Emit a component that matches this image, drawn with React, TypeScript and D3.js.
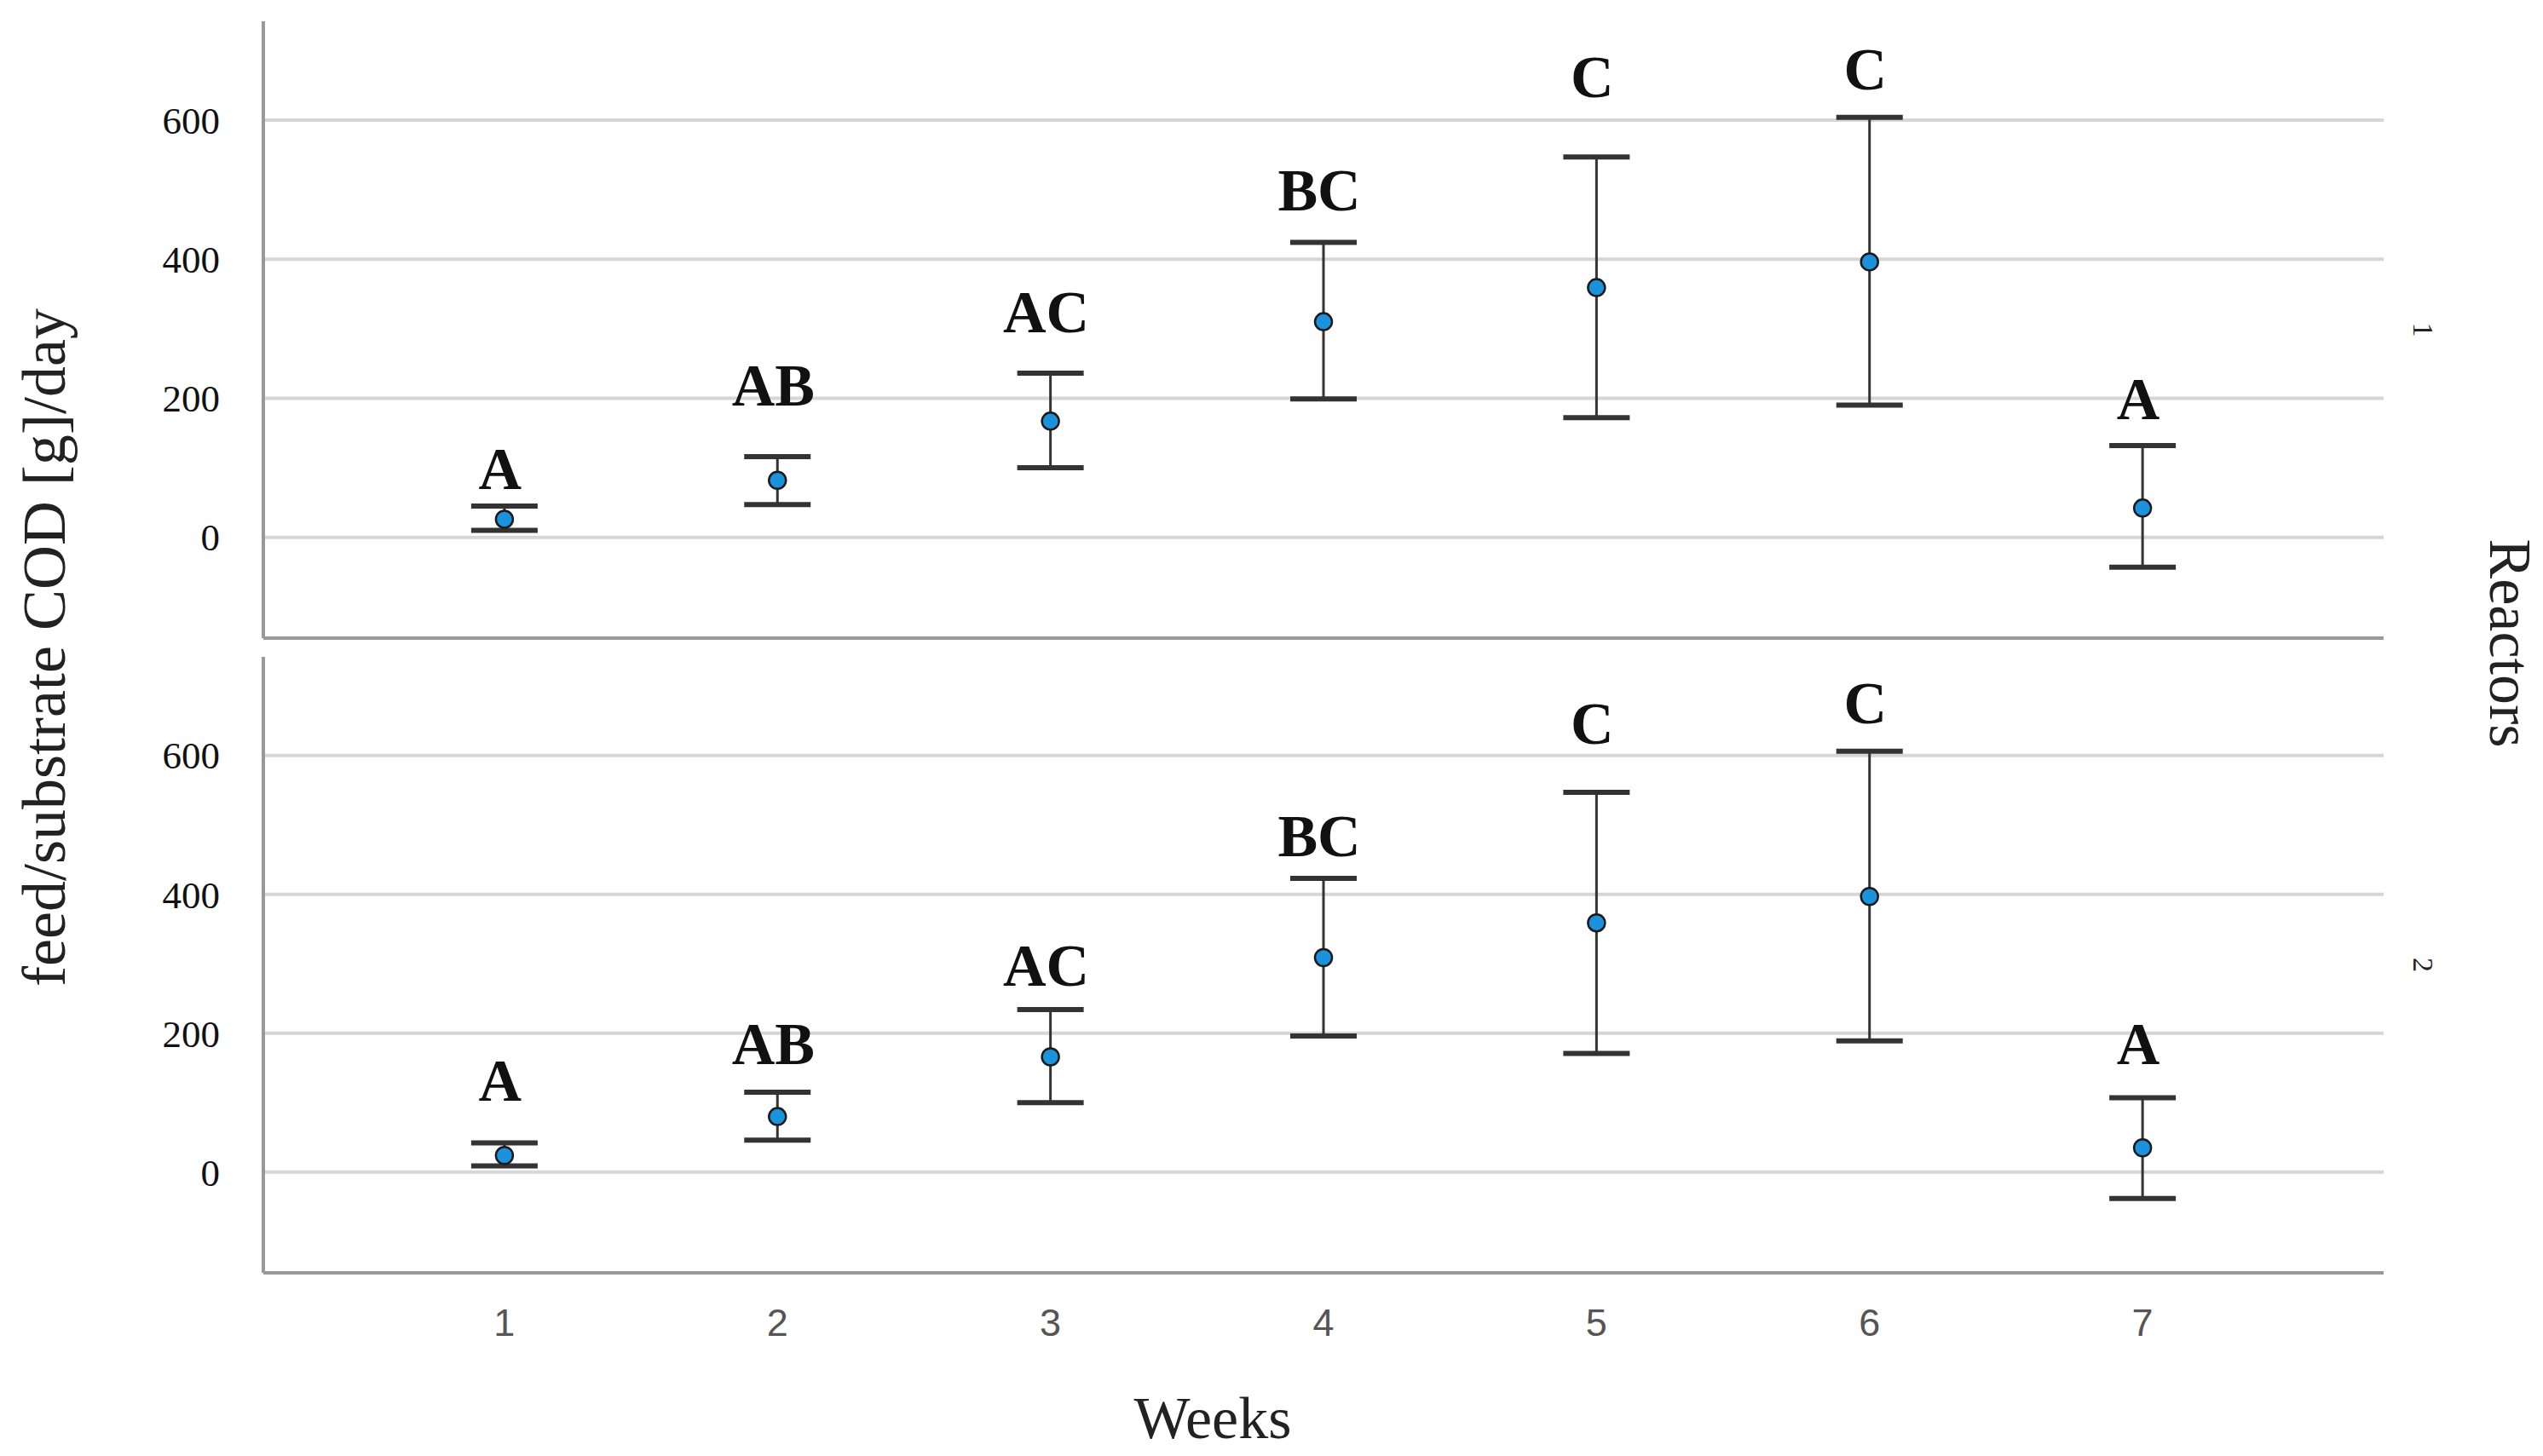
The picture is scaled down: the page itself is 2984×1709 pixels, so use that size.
import { useEffect, useRef } from "react";
import * as d3 from "d3";

const weeks = ["1", "2", "3", "4", "5", "6", "7"];
const yTicks = [0, 200, 400, 600];
const letters = ["A", "AB", "AC", "BC", "C", "C", "A"];

// reactor 1
const r1Mean = [26, 82, 167, 310, 359, 396, 42];
const r1Upper = [45, 116, 236, 424, 547, 604, 132];
const r1Lower = [10, 47, 100, 199, 172, 190, -43];
const r1LabelAt = [70, 190, 295, 470, 633, 644, 170];

// reactor 2
const r2Mean = [24, 80, 166, 309, 359, 397, 35];
const r2Upper = [42, 115, 234, 423, 547, 606, 107];
const r2Lower = [9, 46, 100, 196, 171, 189, -38];
const r2LabelAt = [103, 155, 268, 455, 617, 646, 155];

const panels = [
  { name: "1", mean: r1Mean, upper: r1Upper, lower: r1Lower, labelAt: r1LabelAt, top: 25, bottom: 749 },
  { name: "2", mean: r2Mean, upper: r2Upper, lower: r2Lower, labelAt: r2LabelAt, top: 771, bottom: 1494 },
];

const W = 2984;
const H = 1709;
const left = 309;
const right = 2797;
const serif = "'Liberation Serif', 'Times New Roman', serif";
const sans = "'Liberation Sans', Arial, sans-serif";

const App = () => {
  const ref = useRef<SVGSVGElement>(null!);

  useEffect(() => {
    document.body.style.margin = "0";
    const svg = d3.select(ref.current);
    svg.selectAll("*").remove();
    svg.attr("width", W).attr("height", H);
    svg.append("rect").attr("width", W).attr("height", H).attr("fill", "#fff");

    const x = d3.scalePoint<string>().domain(weeks).range([left, right]).padding(0.883);

    panels.forEach((p) => {
      const y = d3.scaleLinear().domain([-145, 742]).range([p.bottom, p.top]);
      const g = svg.append("g");

      // gridlines
      g.selectAll("line.grid")
        .data(yTicks)
        .enter()
        .append("line")
        .attr("x1", left)
        .attr("x2", right)
        .attr("y1", (d) => y(d))
        .attr("y2", (d) => y(d))
        .attr("stroke", "#d6d6d6")
        .attr("stroke-width", 4);

      // axes
      g.append("line")
        .attr("x1", left)
        .attr("x2", left)
        .attr("y1", p.top)
        .attr("y2", p.bottom)
        .attr("stroke", "#999")
        .attr("stroke-width", 4);
      g.append("line")
        .attr("x1", left)
        .attr("x2", right)
        .attr("y1", p.bottom)
        .attr("y2", p.bottom)
        .attr("stroke", "#999")
        .attr("stroke-width", 4);

      // tick labels
      g.selectAll("text.ytick")
        .data(yTicks)
        .enter()
        .append("text")
        .attr("x", 258)
        .attr("y", (d) => y(d))
        .attr("dy", "0.35em")
        .attr("text-anchor", "end")
        .attr("font-family", serif)
        .attr("font-size", 45)
        .attr("fill", "#111")
        .text((d) => d);

      const idx = d3.range(weeks.length);

      // error bars
      g.selectAll("line.err")
        .data(idx)
        .enter()
        .append("line")
        .attr("x1", (i) => x(weeks[i])!)
        .attr("x2", (i) => x(weeks[i])!)
        .attr("y1", (i) => y(p.upper[i]))
        .attr("y2", (i) => y(p.lower[i]))
        .attr("stroke", "#333")
        .attr("stroke-width", 3);

      [p.upper, p.lower].forEach((vals) => {
        g.selectAll(null)
          .data(idx)
          .enter()
          .append("line")
          .attr("x1", (i) => x(weeks[i])! - 39)
          .attr("x2", (i) => x(weeks[i])! + 39)
          .attr("y1", (i) => y(vals[i]))
          .attr("y2", (i) => y(vals[i]))
          .attr("stroke", "#333")
          .attr("stroke-width", 6);
      });

      // means
      g.selectAll("circle")
        .data(idx)
        .enter()
        .append("circle")
        .attr("cx", (i) => x(weeks[i])!)
        .attr("cy", (i) => y(p.mean[i]))
        .attr("r", 10)
        .attr("fill", "#1b93dc")
        .attr("stroke", "#1a1a1a")
        .attr("stroke-width", 2.5);

      // group letters
      g.selectAll("text.letter")
        .data(idx)
        .enter()
        .append("text")
        .attr("x", (i) => x(weeks[i])! - 5)
        .attr("y", (i) => y(p.labelAt[i]))
        .attr("text-anchor", "middle")
        .attr("font-family", serif)
        .attr("font-weight", "bold")
        .attr("font-size", 70)
        .attr("fill", "#111")
        .text((i) => letters[i]);

      // panel label
      const cy = (p.top + p.bottom) / 2;
      svg.append("text")
        .attr("transform", `translate(2832, ${cy}) rotate(90)`)
        .attr("text-anchor", "middle")
        .attr("font-family", serif)
        .attr("font-size", 34)
        .attr("fill", "#222")
        .text(p.name);
    });

    // x tick labels
    svg.selectAll("text.xtick")
      .data(weeks)
      .enter()
      .append("text")
      .attr("x", (d) => x(d)!)
      .attr("y", 1568)
      .attr("text-anchor", "middle")
      .attr("font-family", sans)
      .attr("font-size", 45)
      .attr("fill", "#555")
      .text((d) => d);

    svg.append("text")
      .attr("x", 1423)
      .attr("y", 1688)
      .attr("text-anchor", "middle")
      .attr("font-family", serif)
      .attr("font-size", 70)
      .attr("fill", "#222")
      .text("Weeks");

    svg.append("text")
      .attr("transform", `translate(76, 760) rotate(-90)`)
      .attr("text-anchor", "middle")
      .attr("font-family", serif)
      .attr("font-size", 72)
      .attr("fill", "#222")
      .text("feed/substrate COD [g]/day");

    svg.append("text")
      .attr("transform", `translate(2922, 755) rotate(90)`)
      .attr("text-anchor", "middle")
      .attr("font-family", serif)
      .attr("font-size", 70)
      .attr("fill", "#222")
      .text("Reactors");
  }, []);

  return <svg ref={ref} style={{ display: "block" }} />;
};

export default App;
